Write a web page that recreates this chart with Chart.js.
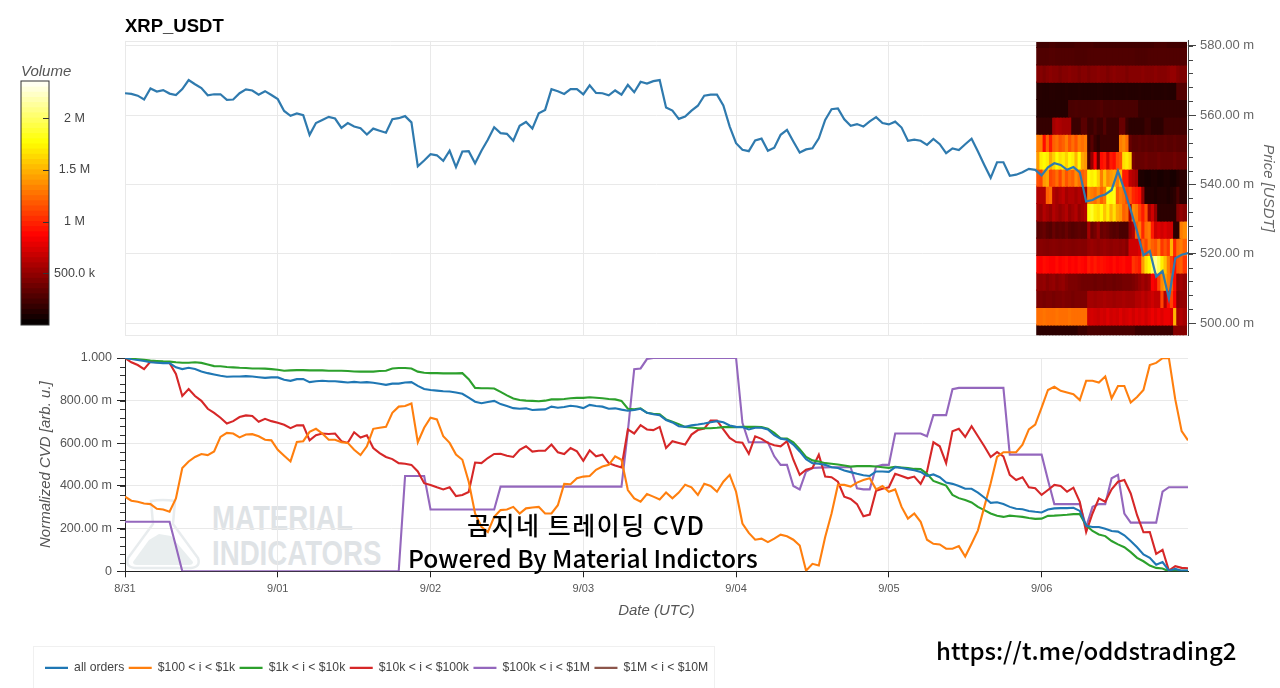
<!DOCTYPE html>
<html>
<head>
<meta charset="utf-8">
<title>XRP_USDT</title>
<script src="https://cdn.jsdelivr.net/npm/chart.js@4"></script>
<style>
  html, body { margin: 0; padding: 0; background: #fff; overflow: hidden; }
  #page { position: relative; width: 1280px; height: 688px; overflow: hidden; }
  canvas { position: absolute; }
  .legendBox { position: absolute; left: 33px; top: 646px; width: 680px; height: 60px; border: 1px solid #f0f0f0; }
  .mark { position: absolute; font-family: "Liberation Sans", sans-serif; font-weight: bold; font-size: 35px; color: #dfe3e6; transform: scaleX(.79); transform-origin: left top; white-space: nowrap; line-height: 35px; }
  .note { position: absolute; font-family: "Noto Sans CJK KR", sans-serif; font-weight: 500; color: #000; white-space: nowrap; line-height: 1; }
  svg { position: absolute; }
</style>
</head>
<body>
<div id="page">
  <div class="legendBox"></div>
  <svg style="left:125px;top:498px" width="76" height="72" viewBox="0 0 76 72">
    <path d="M26 3 Q38 1 50 3 L48 26 L73 60 Q76 69 66 70 L10 70 Q0 69 3 60 L28 26 Z" fill="none" stroke="#e8ecee" stroke-width="2.5"/>
    <path d="M8 64 L24 42 L34 36 L46 38 L68 64 Q68 67 64 67 L12 67 Q8 67 8 64 Z" fill="#e9eeef"/>
  </svg>
  <div class="mark" style="left:212px;top:500px">MATERIAL</div>
  <div class="mark" style="left:212px;top:535px">INDICATORS</div>
  <canvas id="priceChart" style="left:0;top:0"></canvas>
  <canvas id="cvdChart" style="left:0;top:345px"></canvas>
  <canvas id="volumeBar" style="left:0;top:55px"></canvas>
  <div class="note" style="left:467px;top:512px;font-size:25px;letter-spacing:1.5px">곰지네 트레이딩 CVD</div>
  <div class="note" style="left:408px;top:545px;font-size:24.6px">Powered By Material Indictors</div>
  <div class="note" style="left:936px;top:638px;font-size:24px">https://t.me/oddstrading2</div>
</div>
<script>
// tick labels and series names
const dayLabels = ["8/31", "9/01", "9/02", "9/03", "9/04", "9/05", "9/06"];
const seriesNames = ["all orders", "$100 < i < $1k", "$1k < i < $10k", "$10k < i < $100k", "$100k < i < $1M", "$1M < i < $10M"];

// hourly close, in milli USDT
const price = [566.3,566.1,565.6,564.5,567.7,566.8,567.2,566.2,565.8,567.5,570.1,568.9,567.8,565.7,566,566,564.4,564.5,566.3,567.4,567.1,565.9,566.9,565.8,
  564.6,561.2,559.8,560.5,560,554.3,557.7,558.6,559.5,559,556.3,557.7,556.7,556.2,554.4,556.1,555.5,554.9,558.8,559.1,559.7,557.9,545.2,546.9,
  548.7,548.4,546.8,549.7,545,549.5,549.6,546.1,549.7,552.9,556.5,554.8,554.6,552.6,556.9,558,556.1,560.5,561.5,567.5,566.9,566.1,567.5,567.5,
  566,568.6,566.4,566.3,565.7,567.1,565.9,568.7,566.6,569.6,569.1,569.8,570.1,562.2,561.3,558.9,559.6,561.3,562.7,565.6,565.9,565.9,562.8,556.7,
  551.9,550,549.6,552.7,553.2,549.7,550.6,554.3,555.7,552.4,549.2,550.1,550.4,553.3,558.6,561.7,561.9,558.8,556.9,557.4,556.7,558.2,559.4,557.7,
  557.3,558.1,556.4,552.6,552.9,552.6,551.4,553.1,551.6,549,550.4,549.9,551.6,553.2,549.5,545.6,541.9,546.4,546.4,542.5,542.8,543.5,544.5,544.2,
  542.6,544.9,546.1,545.6,544.2,545,543.5,535.1,535.5,536.5,537.1,538.4,543.9,538.4,532.6,526.4,519.6,520.8,513.4,515,507.1,518.7,519.7,520.2];

// normalized CVD, in milli units
const allOrders = [1000,995,991,986,980,978,976,976,956,948,954,948,937,929,923,917,912,913,913,915,913,910,907,909,
  909,898,893,901,901,887,891,893,891,891,888,885,888,885,887,884,879,874,880,880,885,887,869,855,
  850,847,844,843,838,832,814,795,788,794,799,784,775,765,762,764,756,758,759,772,767,770,776,773,
  765,780,775,772,762,764,758,753,756,762,743,736,732,709,698,680,677,684,688,693,699,704,699,684,
  677,676,665,673,673,665,638,622,617,594,562,526,507,504,499,488,484,473,465,457,450,447,468,468,
  466,488,484,479,474,466,447,454,441,416,410,400,387,387,369,346,321,324,315,302,293,291,283,279,
  276,290,295,296,296,298,283,213,208,208,200,189,186,169,142,113,79,63,31,43,3,11,3,3];
const orders100to1k = [350,331,326,318,315,293,290,279,342,484,515,536,550,545,562,630,649,646,628,641,643,633,617,614,
  570,542,515,606,610,654,668,646,617,617,605,602,570,545,586,668,673,677,743,772,775,787,605,673,
  720,712,633,602,547,523,420,271,208,184,255,287,290,302,271,295,299,302,271,271,310,410,408,436,
  444,447,476,491,499,539,523,381,342,326,362,350,337,369,342,369,406,394,358,410,400,373,420,452,
  373,224,180,148,153,137,153,172,164,148,121,3,35,27,161,271,405,405,397,416,428,436,384,400,
  373,384,302,247,271,232,148,129,126,106,106,118,69,129,192,302,413,536,558,558,558,594,665,688,
  767,850,865,846,838,830,803,893,893,885,913,811,869,869,791,817,850,967,977,999,999,806,657,614];
const orders1kto10k = [1000,997,994,991,988,986,984,983,980,978,978,980,977,970,962,961,958,956,954,953,951,951,950,948,
  945,940,942,943,943,942,942,942,940,940,940,939,937,936,936,936,939,940,951,953,953,951,936,931,
  929,929,928,928,928,929,901,860,858,858,857,841,825,810,803,800,799,797,800,806,806,808,811,813,
  813,816,814,811,808,806,799,762,759,764,743,739,736,712,701,690,677,674,671,671,671,673,676,677,
  676,677,677,677,676,668,649,624,622,605,573,536,520,515,507,504,501,496,491,493,493,493,491,488,
  485,490,487,484,480,479,457,424,413,402,358,343,334,323,302,287,271,260,255,261,258,255,250,246,
  247,260,261,263,265,268,268,216,189,173,165,142,126,113,90,63,47,27,16,13,0,3,2,2];
const orders10kto100k = [1000,980,967,948,983,980,980,977,925,822,854,822,799,762,743,720,693,704,723,731,728,701,715,704,
  696,687,671,684,684,614,638,646,644,646,610,602,652,627,638,578,554,536,526,507,504,499,468,413,
  405,394,384,394,353,358,372,510,507,531,550,551,542,536,570,586,561,565,565,594,558,550,578,562,
  518,567,539,547,507,496,487,665,646,685,665,662,677,578,610,602,594,641,662,669,707,707,665,625,
  606,603,551,633,621,602,591,586,610,523,452,476,484,547,444,441,420,350,339,315,258,266,378,387,
  394,457,447,436,444,410,468,605,586,507,657,668,630,680,633,586,536,559,539,452,428,441,394,389,
  358,381,405,400,373,392,326,184,271,342,326,384,420,428,365,263,183,184,82,101,3,24,16,14];
const orders100kto1M = [232,232,232,232,232,232,232,232,117,0,0,0,0,0,0,0,0,0,0,0,0,0,0,0,
  0,0,0,0,0,0,0,0,0,0,0,0,0,0,0,0,0,0,0,0,447,447,447,447,
  290,290,290,290,290,290,290,290,290,290,290,397,397,397,397,397,397,397,397,397,397,397,397,397,
  397,397,397,397,397,397,397,657,948,951,995,1000,1000,1000,1000,1000,1000,1000,1000,1000,1000,1000,1000,1000,
  1000,696,605,605,605,605,539,499,499,400,384,468,484,486,487,488,488,488,488,389,384,384,491,499,
  499,646,646,646,646,646,633,732,732,732,854,860,860,860,860,860,860,860,860,547,547,547,547,547,
  547,428,315,315,315,315,315,208,302,315,315,436,452,271,228,228,228,228,228,373,394,394,394,394];
const orders1Mto10M = [];

// heatmap: volume in millions per price bin (rows) and half hour (columns)
const heatHours = [143.5,144,144.5,145,145.5,146,146.5,147,147.5,148,148.5,149,149.5,150,150.5,151,151.5,152,152.5,153,153.5,154,154.5,155,
  155.5,156,156.5,157,157.5,158,158.5,159,159.5,160,160.5,161,161.5,162,162.5,163,163.5,164,164.5,165,165.5,166,166.5];
const heatPrices = [582,577,572,567,562,557,552,547,542,537,532,527,522,517,512,507,502,497];
const heatVolumes = [
  [.22,.22,.22,.22,.24,.24,.22,.22,.22,.22,.22,.22,.24,.24,.24,.24, .24,.24,.22,.22,.22,.22,.22,.22,.22,.22,.22,.22,.22,.22,.22, .22,.22,.22,.22,.22,.22,.24,.24,.24,.24,.22,.22,.22,.22,.22,.22],
  [.27,.27,.27,.27,.28,.28,.27,.27,.27,.27,.27,.27,.26,.26,.26,.26, .27,.27,.27,.27,.27,.27,.27,.27,.27,.27,.27,.27,.27,.27,.27, .26,.26,.26,.26,.27,.27,.27,.27,.27,.27,.27,.27,.27,.27,.27,.27],
  [.45,.45,.42,.45,.47,.45,.45,.42,.45,.45,.47,.45,.45,.42,.45,.45, .42,.45,.45,.47,.45,.45,.42,.45,.47,.45,.45,.45,.42,.45,.45, .45,.45,.47,.45,.45,.45,.47,.45,.45,.45,.47,.5,.5,.45,.42,.42],
  [.13,.13,.12,.12,.13,.13,.12,.12,.12,.13,.12,.12,.12,.13,.12,.12, .12,.12,.12,.13,.13,.12,.12,.12,.13,.12,.12,.12,.13,.12,.12, .12,.13,.12,.12,.12,.13,.12,.12,.12,.13,.12,.12,.12,.28,.28,.28],
  [.12,.12,.12,.12,.12,.12,.12,.12,.12,.12,.25,.25,.26,.25,.25,.25, .25,.25,.25,.26,.28,.25,.25,.25,.26,.25,.25,.25,.25,.25,.25, .25,.18,.18,.18,.18,.18,.18,.18,.18,.18,.18,.18,.18,.18,.18,.18],
  [.18,.18,.18,.18,.18,.55,.6,.58,.55,.55,.55,.2,.2,.2,.3,.3, .2,.2,.25,.2,.2,.28,.2,.2,.2,.2,.35,.35,.2,.15,.15, .15,.15,.15,.2,.2,.15,.15,.15,.15,.22,.22,.22,.22,.22,.22,.22],
  [1.3,1.3,.9,1.2,.95,1.2,1.25,1.15,1.2,1.3,1.15,1.25,1.15,1.3,1.25,1.3, .2,.3,.2,.15,.2,.2,.2,.2,.2,.2,1.3,1.35,1.25,.35,.3, .3,.32,.3,.32,.3,.3,.32,.3,.3,.32,.3,.3,.32,.3,.3,.3],
  [1.4,1.7,1.75,1.7,1.45,1.6,1.75,1.65,1.7,1.6,1.75,1.7,1.5,1.75,1.45,1.4, .25,.5,.85,.35,.9,.95,.7,.95,.9,1.1,1.15,1.65,1.7,1.6,.4, .35,.35,.35,.38,.35,.35,.35,.38,.35,.35,.35,.35,.38,.35,.35,.35],
  [1.15,1.1,1.4,1.45,1.1,1.15,1.25,1.1,1.3,1.15,1.25,1.2,1.35,1.25,1.2,1.25, 1.75,1.7,1.75,1.6,1.3,1.55,1.35,1.4,1.45,1.3,1.5,.95,.95,.65,.6, .55,.1,.1,.08,.08,.1,.1,.08,.08,.1,.1,.08,.08,.12,.15,.15],
  [.6,.6,.6,1.2,1.25,.6,.55,.6,.65,.55,.6,.6,.55,.6,.55,.55, 1.35,1.3,1.25,1.35,1.2,1.3,1.8,1.75,1.8,1.2,1.3,1.25,1.1,1.15,1.0, .95,.9,.5,.12,.12,.12,.1,.12,.12,.12,.1,.12,.15,.25,.15,.15],
  [.55,.5,.6,.55,.5,.6,.55,.5,.55,.6,.5,.55,.6,.5,.55,.6, 1.75,1.85,1.7,1.65,1.75,1.55,1.7,1.5,1.65,1.45,1.4,1.2,1.25,.6,1.35, 1.3,1.1,.95,1.15,.55,.7,.5,.15,.15,.15,.15,.15,.15,.45,.5,.45],
  [.3,.32,.35,.3,.28,.35,.3,.32,.3,.35,.3,.28,.3,.32,.3,.3, .55,.35,.4,.5,.35,.38,.35,.3,.28,.3,.25,.25,.25,.5,.6, 1.2,1.3,1.0,1.25,1.3,.95,.7,.75,.7,.75,.7,.7,.15,.15,1.3,1.35],
  [.45,.46,.45,.44,.45,.46,.45,.44,.45,.46,.45,.44,.45,.46,.45,.45, .5,.52,.5,.48,.5,.52,.5,.48,.5,.5,.48,.5,.45,.7,.7, .7,.75,1.2,1.1,1.3,1.2,1.15,1.3,1.05,1.15,1.05,1.5,1.0,1.25,1.3,1.2],
  [.88,.85,.9,.88,.85,.85,.9,.85,.88,.9,.85,.88,.85,.9,.88,.85, .95,.9,.95,.9,.92,.9,.88,.85,.9,.85,.88,.9,.85,.85,1.05, 1.0,.95,1.4,1.65,1.75,1.95,2.1,1.95,1.7,1.55,1.3,1.1,.9,1.15,1.2,1.05],
  [.5,.48,.5,.45,.48,.5,.45,.48,.5,.45,.42,.42,.42,.4,.38,.38, .38,.38,.36,.38,.38,.36,.38,.38,.36,.38,.38,.4,.4,.4,.42, .45,.5,.55,.5,.55,.85,.8,1.1,1.35,1.45,1.3,1.2,.9,.5,.55,.5],
  [.42,.42,.4,.42,.42,.4,.42,.42,.44,.42,.42,.4,.42,.42,.42,.42, .55,.55,.53,.55,.55,.57,.55,.55,.53,.55,.55,.57,.55,.55,.55, .6,.6,.65,.6,.65,.7,.65,.65,1.1,.6,.9,1.1,.85,.45,.5,.5],
  [1.25,1.25,1.27,1.25,1.25,1.25,1.27,1.25,1.25,1.25,1.27,1.25,1.25,1.25,1.25,1.25, .7,.72,.7,.68,.72,.7,.75,.7,.72,.7,.75,.7,.72,.75,.7, .75,.72,.75,.7,.75,.8,.75,.8,.75,.8,.8,.75,1.5,.55,.6,.55],
  [.15,.15,.15,.15,.15,.15,.15,.15,.15,.15,.15,.15,.15,.2,.2,.2, .25,.25,.25,.25,.25,.25,.25,.25,.25,.25,.25,.25,.25,.25,.25, .2,.2,.2,.2,.2,.2,.2,.2,.2,.2,.2,.2,.45,.45,.45,.45]
];

// colorbar
const volumeMax = 2.36;
const colorLevels = [0,.05,.1,.15,.2,.25,.3,.35,.4,.45,.5,.55,.6,.65,.7,.75,.8,.85,.9,.95,1,1.05,1.1,1.15,1.2,1.25,1.3,1.35,1.4,1.45,1.5,1.55,1.6,1.65,1.7,1.75,1.8,1.85,1.9,1.95,2,2.05,2.1,2.15,2.2,2.25,2.3,2.35];

const sans = "'Liberation Sans', Arial, sans-serif";
const gridColor = "#e9e9e9";
const clamp01 = (v) => Math.max(0, Math.min(1, v));

// matplotlib style "hot" palette
function hot(volume) {
  const t = clamp01(volume / volumeMax);
  const r = Math.round(255 * clamp01(t / 0.365));
  const g = Math.round(255 * clamp01((t - 0.365) / 0.381));
  const b = Math.round(255 * clamp01((t - 0.746) / 0.254));
  return `rgb(${r},${g},${b})`;
}

// short unlabeled ticks and frame lines the axes can not do by themselves
const axisExtras = {
  id: "axisExtras",
  afterDraw(chart, args, opts) {
    const ctx = chart.ctx;
    const area = chart.chartArea;
    ctx.save();
    ctx.lineWidth = 1;
    if (opts.topLine) {
      ctx.strokeStyle = opts.topLine;
      ctx.beginPath();
      ctx.moveTo(area.left, Math.round(area.top) + 0.5);
      ctx.lineTo(area.right, Math.round(area.top) + 0.5);
      ctx.stroke();
    }
    if (opts.box) {
      ctx.strokeStyle = opts.box;
      ctx.strokeRect(area.left, area.top, area.right - area.left, area.bottom - area.top);
    }
    if (opts.minor) {
      const scale = chart.scales.y;
      const m = opts.minor;
      ctx.strokeStyle = m.color;
      ctx.beginPath();
      for (let v = m.from; v <= m.to; v += m.step) {
        const y = Math.round(scale.getPixelForValue(v)) + 0.5;
        ctx.moveTo(m.x, y);
        ctx.lineTo(m.x + m.len, y);
      }
      ctx.stroke();
    }
    ctx.restore();
  }
};

function makeCanvas(id, w, h) {
  const c = document.getElementById(id);
  c.style.width = w + "px";
  c.style.height = h + "px";
  c.width = w;
  c.height = h;
  return c;
}

const hours = price.map((p, i) => i);
const dayTick = (v) => dayLabels[v / 24] || "";

// heat rows as floating bars, one dataset per price bin
const heatSets = heatPrices.map((p, r) => ({
  type: "bar",
  order: 2,
  grouped: false,
  barPercentage: 1,
  categoryPercentage: 1,
  borderWidth: 0,
  inflateAmount: 0.6,
  data: heatHours.map((h) => ({ x: h, y: [p - 2.5, p + 2.5] })),
  backgroundColor: heatVolumes[r].map(hot)
}));

new Chart(makeCanvas("priceChart", 1280, 347), {
  data: {
    labels: hours,
    datasets: [
      ...heatSets,
      { type: "line", order: 1, data: price, borderColor: "#2f7aae", borderWidth: 2.2, pointRadius: 0, tension: 0 }
    ]
  },
  plugins: [axisExtras],
  options: {
    responsive: false,
    animation: false,
    layout: { padding: { left: 125, bottom: 8 } },
    plugins: {
      legend: { display: false },
      tooltip: { enabled: false },
      title: {
        display: true, text: "XRP_USDT", align: "start", color: "#000",
        font: { family: sans, size: 18.5, weight: "bold" },
        padding: { top: 16, bottom: 2.7 }
      },
      axisExtras: {
        topLine: gridColor,
        minor: { from: 500, to: 580, step: 4, x: 1188, len: 5, color: "#444" }
      }
    },
    scales: {
      x: {
        type: "linear", min: 0, max: 167, offset: false,
        grid: { color: gridColor, drawTicks: false, offset: false },
        border: { color: gridColor },
        ticks: { stepSize: 24, display: false, includeBounds: false },
        afterFit(s) { s.height = 0; }
      },
      y: {
        position: "right", min: 496.5, max: 581.4,
        grid: { color: gridColor, tickLength: 8, tickColor: "#444" },
        border: { color: "#444" },
        ticks: {
          stepSize: 20, includeBounds: false, padding: 4, color: "#666",
          font: { family: sans, size: 13 },
          callback: (v) => v.toFixed(2) + " m"
        },
        title: {
          display: true, text: "Price [USDT]", color: "#666",
          font: { family: sans, size: 15, style: "italic" },
          padding: { top: 3, bottom: 3 }
        },
        afterFit(s) { s.width = 92; }
      }
    }
  }
});

const cvdLine = (i, values, color) => ({
  label: seriesNames[i], data: values, borderColor: color, backgroundColor: color,
  borderWidth: 2.1, pointRadius: 0, tension: 0
});

new Chart(makeCanvas("cvdChart", 1280, 343), {
  type: "line",
  data: {
    labels: hours,
    datasets: [
      cvdLine(0, allOrders, "#1f77b4"),
      cvdLine(1, orders100to1k, "#ff7f0e"),
      cvdLine(2, orders1kto10k, "#2ca02c"),
      cvdLine(3, orders10kto100k, "#d62728"),
      cvdLine(4, orders100kto1M, "#9467bd"),
      cvdLine(5, orders1Mto10M, "#8c564b")
    ]
  },
  plugins: [axisExtras],
  options: {
    responsive: false,
    animation: false,
    layout: { padding: { left: 40.5, right: 92, top: 13, bottom: 4 } },
    plugins: {
      tooltip: { enabled: false },
      legend: {
        position: "bottom", align: "start",
        labels: {
          usePointStyle: true, pointStyle: "line", pointStyleWidth: 23, padding: 4.5,
          color: "#444", font: { family: sans, size: 12.2 }
        }
      },
      axisExtras: {
        minor: { from: 0, to: 1000, step: 40, x: 120, len: 5, color: "#333" }
      }
    },
    scales: {
      x: {
        type: "linear", min: 0, max: 167,
        grid: { color: gridColor, tickLength: 6, tickColor: "#222" },
        border: { color: "#222" },
        ticks: {
          stepSize: 24, includeBounds: false, autoSkip: false, maxRotation: 0, padding: 5, color: "#555",
          font: { family: sans, size: 11 }, callback: dayTick
        },
        title: {
          display: true, text: "Date (UTC)", color: "#555",
          font: { family: sans, size: 15, style: "italic" },
          padding: { top: 0, bottom: 37 }
        },
        afterFit(s) { s.height = 86; }
      },
      y: {
        min: 0, max: 1000,
        grid: { color: gridColor, tickLength: 8, tickColor: "#222" },
        border: { color: "#222" },
        ticks: {
          stepSize: 200, padding: 5, color: "#555",
          font: { family: sans, size: 12.5 },
          callback: (v) => (v === 1000 ? "1.000" : v === 0 ? "0" : v.toFixed(2) + " m")
        },
        title: {
          display: true, text: "Normalized CVD [arb. u.]", color: "#555",
          font: { family: sans, size: 15, style: "italic" },
          padding: { top: -3.5, bottom: 0 }
        },
        afterFit(s) { s.width = 84.5; }
      }
    }
  }
});

new Chart(makeCanvas("volumeBar", 110, 285), {
  type: "bar",
  data: {
    labels: ["volume"],
    datasets: colorLevels.map((v) => ({
      grouped: false,
      barPercentage: 1,
      categoryPercentage: 1,
      inflateAmount: 0.6,
      borderWidth: 0,
      data: [[v, v + 0.05]],
      backgroundColor: hot(v + 0.025)
    }))
  },
  plugins: [axisExtras],
  options: {
    responsive: false,
    animation: false,
    layout: { padding: { left: 21, right: 9, bottom: 15 } },
    plugins: {
      legend: { display: false },
      tooltip: { enabled: false },
      title: {
        display: true, text: "Volume", align: "start", color: "#555",
        font: { family: sans, size: 15, style: "italic", weight: "normal" },
        padding: { top: 8, bottom: 0 }
      },
      axisExtras: {
        box: "#333",
        minor: { from: 0.5, to: 2, step: 0.5, x: 43, len: 6, color: "#333" }
      }
    },
    scales: {
      x: { display: false },
      y: {
        position: "right", min: 0, max: volumeMax,
        grid: { display: false, drawTicks: false },
        border: { display: false },
        ticks: {
          stepSize: 0.5, includeBounds: false, crossAlign: "center", padding: 5, color: "#444",
          font: { family: sans, size: 12.5 },
          callback: (v) => (v === 0 ? "" : v === 0.5 ? "500.0 k" : v + " M")
        },
        afterFit(s) { s.width = 52; }
      }
    }
  }
});
</script>
</body>
</html>
